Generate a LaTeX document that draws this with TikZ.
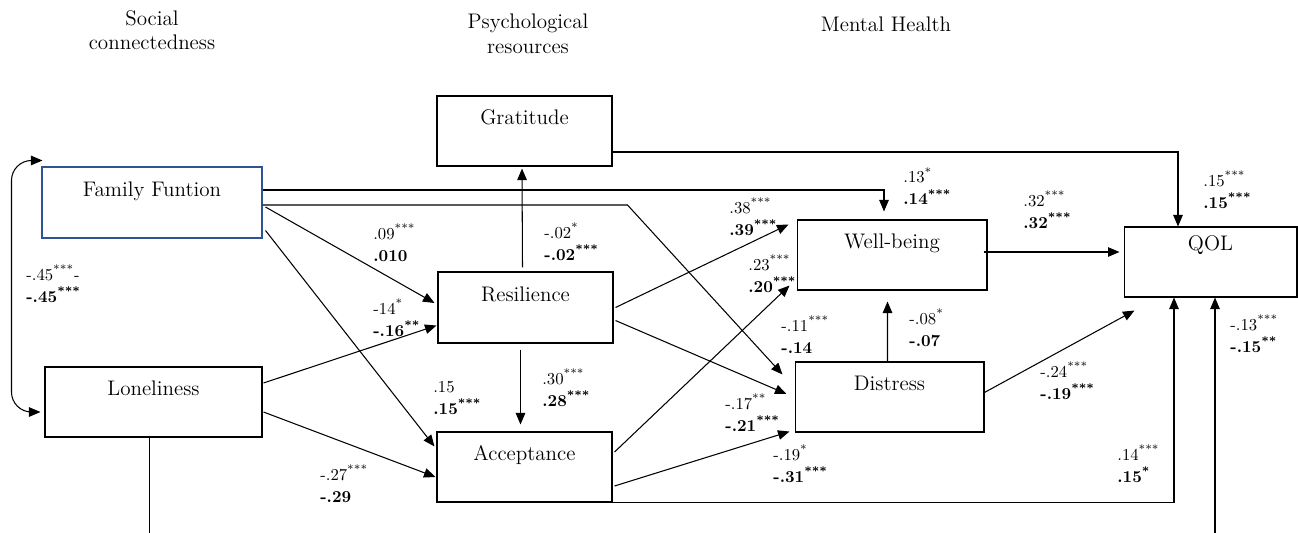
\documentclass[tikz,border=0pt]{standalone}
\usetikzlibrary{arrows.meta,calc}
\definecolor{famblue}{RGB}{47,84,150}
\newcommand{\sig}[1]{\textsuperscript{#1}}

\begin{document}
\begin{tikzpicture}[x=0.02cm, y=-0.02cm,
  var/.style={draw, line width=0.6pt, minimum width=3.5cm, minimum height=1.4cm,
    inner sep=0pt, text height=9pt, text depth=16pt, font=\fontsize{12}{15}\selectfont},
  head/.style={align=center, inner sep=0pt, font=\fontsize{12}{14}\selectfont},
  coef/.style={align=left, anchor=west, inner sep=0pt, font=\fontsize{9.5}{12.5}\selectfont},
  arr/.style={line width=0.6pt, -{Triangle[length=2.3mm,width=1.9mm]}},
  arrr/.style={line width=0.6pt, {Triangle[length=2.3mm,width=1.9mm]}-{Triangle[length=2.3mm,width=1.9mm]}}]
  \clip (0,0) rectangle (1298,532);

  % column headings
  \node[head] (hsocial) at (152,30) {Social\\connectedness};
  \node[head] (hpsych) at (528,34) {Psychological\\resources};
  \node[head] (hmental) at (886,24) {Mental Health};

  % variables
  \node[var] (Gratitude) at (524.5,131) {Gratitude};
  \node[var, draw=famblue, minimum width=4.4cm, minimum height=1.42cm] (Family) at (152,202.5) {Family Funtion};
  \node[var, minimum height=1.42cm] (Resilience) at (525.5,307.5) {Resilience};
  \node[var, minimum width=4.34cm] (Loneliness) at (153.5,402) {Loneliness};
  \node[var] (Acceptance) at (524.5,467) {Acceptance};
  \node[var, minimum width=3.8cm] (Wellbeing) at (892,255) {Well-being};
  \node[var, minimum width=3.78cm] (Distress) at (889.5,397) {Distress};
  \node[var, minimum width=3.46cm, text depth=22pt] (QOL) at (1210.5,262) {QOL};

  % paths
  \draw[arrr, rounded corners=0.4cm] ($(Family.north west)+(1,-6)$) -| ($(Loneliness.west)+(-33,10)$) -- ($(Loneliness.west)+(-4,10)$);
  \draw[arr] ($(Gratitude.east)+(0,21)$) -| ($(QOL.north)+(-32.5,0)$);
  \draw[arr, shorten >=0.16cm] ($(Family.east)+(0,-12.5)$) -| ($(Wellbeing.north)+(-8,0)$);
  \draw[arr] ($(Family.east)+(0,2.5)$) -- ++(365,0) -- ($(Distress.north west)+(-12,13)$);
  \draw[arr] ($(Family.east)+(3,4.5)$) -- ($(Resilience.west)+(-3,-4.5)$);
  \draw[arr] ($(Family.east)+(3,28)$) -- ($(Acceptance.north west)+(-2,15)$);
  \draw[arr] ($(Loneliness.east)+(1,-19)$) -- ($(Resilience.west)+(-1,18)$);
  \draw[arr] ($(Loneliness.east)+(1,10)$) -- ($(Acceptance.west)+(-1,10)$);
  \draw[arr] ($(Resilience.north)+(-3,-4)$) -- ($(Gratitude.south)+(-2.5,2)$);
  \draw[arr] ($(Resilience.south)+(-5,6)$) -- ($(Acceptance.north)+(-4,-7)$);
  \draw[arr] ($(Resilience.east)+(2,0)$) -- ($(Wellbeing.north west)+(-8,5)$);
  \draw[arr] ($(Resilience.east)+(2,13)$) -- ($(Distress.west)+(-8,-3)$);
  \draw[arr] ($(Acceptance.east)+(2,-15)$) -- ($(Wellbeing.south west)+(-7,-5)$);
  \draw[arr] ($(Acceptance.east)+(2,19)$) -- ($(Distress.south west)+(-5,-1)$);
  \draw[arr] (Acceptance.south east) -| ($(QOL.south)+(-36.5,0)$);
  \draw[arr] ($(Loneliness.south)+(-4,0)$) -- ++(0,100) -| ($(QOL.south)+(4.5,0)$);
  \draw[arr] ($(Wellbeing.east)+(-4,-3)$) -- ($(QOL.west)+(-4,-10)$);
  \draw[arr] ($(Distress.north)+(-2,0)$) -- ($(Wellbeing.south)+(-4.5,11)$);
  \draw[arr] ($(Distress.east)+(-1,-4)$) -- ($(QOL.south west)+(11,13)$);

  % coefficients
  \node[coef] (c1) at (26,283.5) {-.45\sig{***}-\\\textbf{-.45\sig{***}}};
  \node[coef] (c2) at (373,242.5) {.09\sig{***}\\\textbf{.010}};
  \node[coef] (c3) at (373,318) {-14\sig{*}\\\textbf{-.16\sig{**}}};
  \node[coef] (c4) at (544,241.5) {-.02\sig{*}\\\textbf{-.02\sig{***}}};
  \node[coef] (c5) at (729,217) {.38\sig{***}\\\textbf{.39\sig{***}}};
  \node[coef] (c6) at (748,273.5) {.23\sig{***}\\\textbf{.20\sig{***}}};
  \node[coef] (c7) at (781,334.5) {-.11\sig{***}\\\textbf{-.14}};
  \node[coef] (c8) at (725,412.5) {-.17\sig{**}\\\textbf{-.21\sig{***}}};
  \node[coef] (c9) at (773,463.5) {-.19\sig{*}\\\textbf{-.31\sig{***}}};
  \node[coef] (c10) at (903,186) {.13\sig{*}\\\textbf{.14\sig{***}}};
  \node[coef] (c11) at (1023,210) {.32\sig{***}\\\textbf{.32\sig{***}}};
  \node[coef] (c12) at (1203,189.5) {.15\sig{***}\\\textbf{.15\sig{***}}};
  \node[coef] (c13) at (909,327.5) {-.08\sig{*}\\\textbf{-.07}};
  \node[coef] (c14) at (1230,333.5) {-.13\sig{***}\\\textbf{-.15\sig{**}}};
  \node[coef] (c15) at (1040,380.5) {-.24\sig{***}\\\textbf{-.19\sig{***}}};
  \node[coef] (c16) at (1117,464) {.14\sig{***}\\\textbf{.15\sig{*}}};
  \node[coef] (c17) at (433,398) {.15\\\textbf{.15\sig{***}}};
  \node[coef] (c18) at (542,388) {.30\sig{***}\\\textbf{.28\sig{***}}};
  \node[coef] (c19) at (320,483.5) {-.27\sig{***}\\\textbf{-.29}};
\end{tikzpicture}
\end{document}
